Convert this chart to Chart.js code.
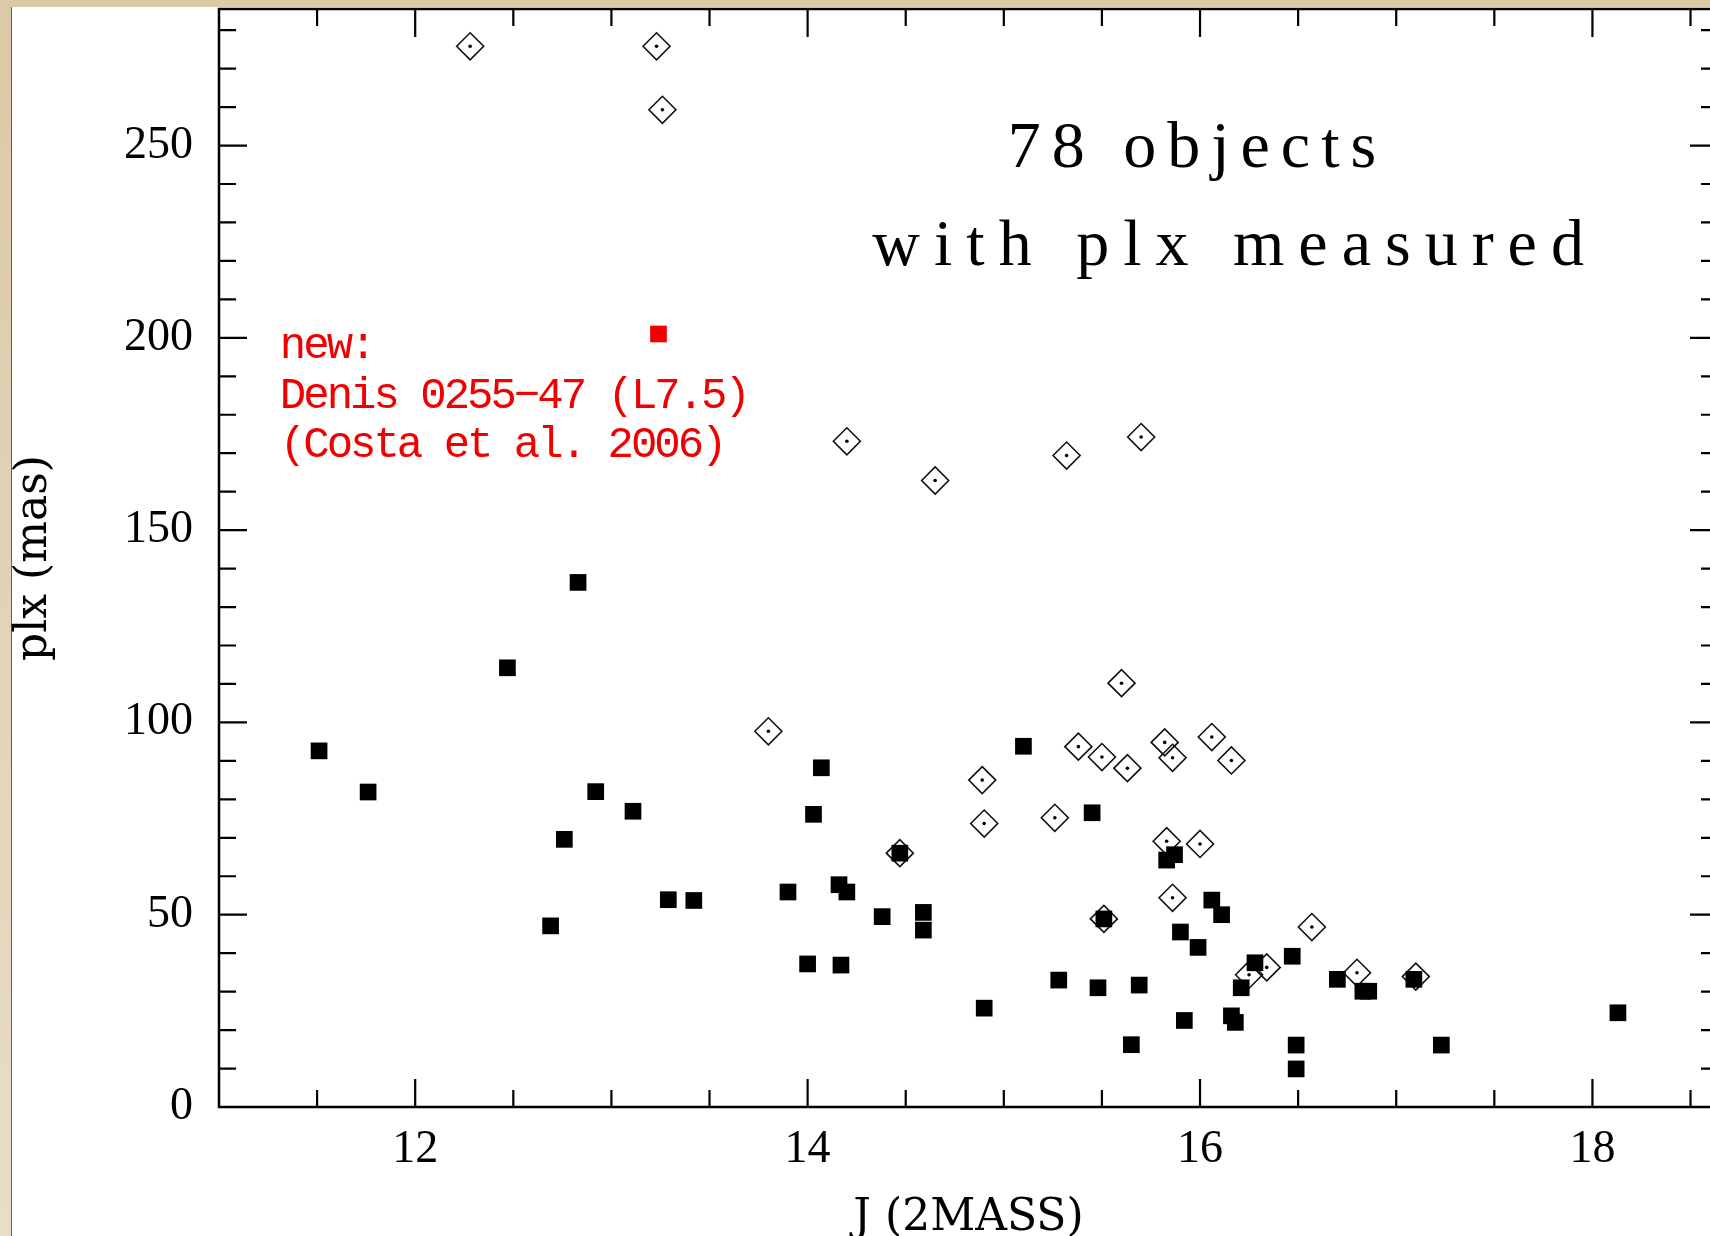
<!DOCTYPE html>
<html>
<head>
<meta charset="utf-8">
<script src="https://cdn.jsdelivr.net/npm/chart.js"></script>
<style>
  html, body { margin: 0; padding: 0; overflow: hidden; background: #dcc9a5; }
  canvas { display: block; }
</style>
</head>
<body>
<canvas id="plx-chart" width="1720" height="1236"></canvas>
<script>
// objects with measured parallax, filled squares
const squareJ = [11.51, 11.76, 12.47, 12.69, 12.76, 12.83, 12.92, 13.11, 13.29, 13.42,
  13.90, 14.00, 14.03, 14.07, 14.16, 14.17, 14.20, 14.38, 14.47, 14.59,
  14.59, 14.90, 15.10, 15.28, 15.45, 15.48, 15.51, 15.65, 15.69, 15.83,
  15.87, 15.90, 15.92, 15.99, 16.06, 16.11, 16.16, 16.18, 16.21, 16.28,
  16.47, 16.49, 16.49, 16.70, 16.83, 16.86, 17.09, 17.23, 18.13];
const squarePlx = [92.6, 81.9, 114.2, 47.1, 69.6, 136.4, 82.0, 76.9, 53.9, 53.7,
  55.9, 37.2, 76.1, 88.2, 57.8, 36.9, 55.9, 49.5, 66.0, 50.6,
  46.0, 25.7, 93.8, 33.0, 76.5, 31.0, 48.9, 16.2, 31.7, 64.2,
  65.6, 45.5, 22.5, 41.5, 53.8, 50.0, 23.7, 22.0, 31.0, 37.5,
  39.2, 16.1, 9.9, 33.2, 30.1, 30.1, 33.2, 16.1, 24.5];

// open diamonds with a dot
const diamondJ = [12.28, 13.23, 13.26, 14.20, 14.65, 15.32, 15.70, 13.80, 14.89, 14.90,
  15.26, 15.38, 15.50, 15.63, 15.60, 15.82, 15.86, 16.06, 16.16, 15.83,
  16.00, 15.86, 14.47, 15.51, 16.25, 16.34, 16.57, 16.80, 17.10];
const diamondPlx = [275.8, 275.8, 259.3, 173.1, 162.9, 169.4, 174.2, 97.7, 85.0, 73.7,
  75.2, 93.7, 91.0, 88.1, 110.2, 94.8, 90.8, 96.2, 90.1, 69.1,
  68.4, 54.4, 66.0, 48.9, 34.4, 36.3, 46.8, 34.9, 33.9];

// new: Denis 0255-47
const newJ = [13.24];
const newPlx = [201.0];

const xTicks = [12, 14, 16, 18];
const yTicks = [0, 50, 100, 150, 200, 250];

const pts = (xs, ys) => xs.map((v, i) => ({ x: v, y: ys[i] }));

const paper = {
  id: 'paper',
  beforeDraw(chart) {
    const { ctx, width, height } = chart;
    ctx.save();
    const g = ctx.createLinearGradient(0, 0, 0, height);
    g.addColorStop(0, '#dcc9a5');
    g.addColorStop(1, '#e9ddc8');
    ctx.fillStyle = g;
    ctx.fillRect(0, 0, width, height);
    ctx.fillStyle = '#ffffff';
    ctx.fillRect(11, 7, width, height);
    ctx.fillStyle = '#6b6256';
    ctx.fillRect(11, 7, 1, height);
    ctx.restore();
  },
  afterDraw(chart) {
    const { ctx, chartArea: a, scales: { x, y } } = chart;
    ctx.save();
    ctx.strokeStyle = '#000';
    ctx.lineWidth = 2.5;
    ctx.strokeRect(a.left, a.top, a.right - a.left, a.bottom - a.top);

    // inward ticks on all four sides
    ctx.lineWidth = 2.2;
    ctx.beginPath();
    for (let v = 11.5; v < x.max; v += 0.5) {
      const px = x.getPixelForValue(v);
      const len = v % 2 === 0 ? 28 : 17;
      ctx.moveTo(px, a.bottom); ctx.lineTo(px, a.bottom - len);
      ctx.moveTo(px, a.top); ctx.lineTo(px, a.top + len);
    }
    for (let v = 10; v < y.max; v += 10) {
      const py = y.getPixelForValue(v);
      const len = v % 50 === 0 ? 28 : 17;
      ctx.moveTo(a.left, py); ctx.lineTo(a.left + len, py);
      ctx.moveTo(a.right, py); ctx.lineTo(a.right - len, py);
    }
    ctx.stroke();

    // annotations
    ctx.fillStyle = '#000';
    ctx.textBaseline = 'alphabetic';
    ctx.font = '66px "Liberation Serif"';
    ctx.letterSpacing = '11px';
    ctx.fillText('78 objects', x.getPixelForValue(15.02), y.getPixelForValue(244.3));
    ctx.letterSpacing = '14px';
    ctx.fillText('with plx measured', x.getPixelForValue(14.33), y.getPixelForValue(219.0));

    ctx.fillStyle = '#f00000';
    ctx.font = '44px "Liberation Mono"';
    ctx.letterSpacing = '-3px';
    const lx = x.getPixelForValue(11.31);
    ctx.fillText('new:', lx, y.getPixelForValue(194.8));
    ctx.fillText('Denis 0255\u221247 (L7.5)', lx, y.getPixelForValue(181.8));
    ctx.fillText('(Costa et al. 2006)', lx, y.getPixelForValue(169.1));
    ctx.restore();
  }
};

const tickFont = { family: '"Liberation Serif"', size: 46 };
const titleFont = { family: '"DejaVu Serif"', size: 44 };

new Chart(document.getElementById('plx-chart'), {
  type: 'scatter',
  data: {
    datasets: [
      {
        label: 'new',
        data: pts(newJ, newPlx),
        pointStyle: 'rect',
        pointRadius: 11.8,
        backgroundColor: '#f00000',
        borderWidth: 0
      },
      {
        label: 'plx',
        data: pts(squareJ, squarePlx),
        pointStyle: 'rect',
        pointRadius: 11.8,
        backgroundColor: '#000',
        borderWidth: 0
      },
      {
        label: 'dots',
        data: pts(diamondJ, diamondPlx),
        pointStyle: 'circle',
        pointRadius: 1.8,
        backgroundColor: '#000',
        borderWidth: 0
      },
      {
        label: 'diamonds',
        data: pts(diamondJ, diamondPlx),
        pointStyle: 'rectRot',
        pointRadius: 13.5,
        backgroundColor: 'rgba(0,0,0,0)',
        borderColor: '#111',
        borderWidth: 1.6
      }
    ]
  },
  options: {
    responsive: false,
    devicePixelRatio: 1,
    animation: false,
    events: [],
    layout: { autoPadding: false, padding: { top: 9, right: 2, left: 0, bottom: 0 } },
    plugins: {
      legend: { display: false },
      tooltip: { enabled: false }
    },
    scales: {
      x: {
        type: 'linear',
        min: 11,
        max: 18.64,
        grid: { display: false, drawTicks: false },
        border: { display: false },
        afterBuildTicks: s => { s.ticks = xTicks.map(v => ({ value: v })); },
        ticks: { font: tickFont, color: '#000', padding: 15, maxRotation: 0, autoSkip: false },
        title: { display: true, text: 'J (2MASS)', font: titleFont, color: '#000', padding: { top: 0, bottom: -9 } },
        afterFit: s => { s.height = 129; s.paddingLeft = 0; s.paddingRight = 0; }
      },
      y: {
        type: 'linear',
        min: 0,
        max: 285.5,
        grid: { display: false, drawTicks: false },
        border: { display: false },
        afterBuildTicks: s => { s.ticks = yTicks.map(v => ({ value: v })); },
        ticks: { font: tickFont, color: '#000', padding: 26, autoSkip: false },
        title: { display: true, text: 'plx (mas)', font: titleFont, color: '#000', padding: { top: 8, bottom: 0 } },
        afterFit: s => { s.width = 219; s.paddingTop = 0; s.paddingBottom = 0; }
      }
    }
  },
  plugins: [paper]
});
</script>
</body>
</html>
